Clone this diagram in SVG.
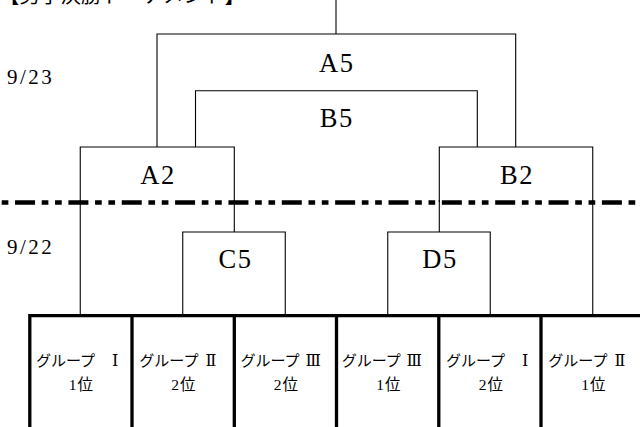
<svg xmlns="http://www.w3.org/2000/svg" width="640" height="427" viewBox="0 0 640 427">
<style>
.thin{fill:none;stroke:#000;stroke-width:1.1}
.thick{fill:none;stroke:#000;stroke-width:3.3}
.lbl{font-family:"Liberation Serif","Noto Sans CJK JP",serif;font-size:26.5px;letter-spacing:1.6px;text-anchor:middle;fill:#000}
.date{font-family:"Liberation Serif","Noto Sans CJK JP",serif;font-size:21px;letter-spacing:2.5px;fill:#000}
.team{font-family:"Liberation Serif","Noto Sans CJK JP",serif;font-size:15px;fill:#000}
.rank{font-family:"Liberation Serif","Noto Sans CJK JP",serif;font-size:15.5px;letter-spacing:1px;text-anchor:middle;fill:#000}
.rn{font-family:"DejaVu Serif","Noto Sans CJK JP",serif;font-size:16px}
.title{font-family:"Liberation Serif","Noto Sans CJK JP",serif;font-size:20.5px;fill:#000}
</style>
<rect width="640" height="427" fill="#fff"/>
<g id="title"><text class="title" x="-1" y="3">【男子決勝トーナメント】</text></g>
<g id="dates">
<text class="date" x="7" y="84">9/23</text>
<text class="date" x="7" y="254">9/22</text>
</g>
<g id="connectors">
<line class="thin" x1="336" y1="0" x2="336" y2="34"/>
<line class="thin" x1="80.25" y1="200" x2="80.25" y2="315"/>
<line class="thin" x1="234.3" y1="200" x2="234.3" y2="232"/>
<line class="thin" x1="439.3" y1="200" x2="439.3" y2="232"/>
<line class="thin" x1="592.75" y1="200" x2="592.75" y2="315"/>
</g>
<g id="node-A5"><path class="thin" d="M157,147 V34 H515.7 V147"/><text class="lbl" x="336.8" y="71.5">A5</text></g>
<g id="node-B5"><path class="thin" d="M195.5,147 V90.7 H477.3 V147"/><text class="lbl" x="336.8" y="127">B5</text></g>
<g id="node-A2"><path class="thin" d="M80.25,202 V147 H234.3 V202"/><text class="lbl" x="158" y="184">A2</text></g>
<g id="node-B2"><path class="thin" d="M439.3,202 V147 H592.75 V202"/><text class="lbl" x="517" y="184">B2</text></g>
<g id="node-C5"><path class="thin" d="M182.75,315 V232 H285.25 V315"/><text class="lbl" x="235.5" y="268">C5</text></g>
<g id="node-D5"><path class="thin" d="M387.75,315 V232 H490.25 V315"/><text class="lbl" x="440" y="268">D5</text></g>
<g id="divider"><line x1="-38.3" y1="202.5" x2="640" y2="202.5" stroke="#000" stroke-width="4.7" stroke-dasharray="20 6.67 6.67 6.67 6.67 6.67"/></g>
<g id="team-1"><path class="thick" d="M29.8,427 V315.7 H132"/><text class="team" x="36" y="365.5">グループ<tspan class="rn" x="112">Ⅰ</tspan></text><text class="rank" x="81.5" y="389.5">1位</text></g>
<g id="team-2"><path class="thick" d="M132,427 V315.7 H234.3"/><text class="team" x="139.3" y="365.5">グループ<tspan class="rn" x="205.5">Ⅱ</tspan></text><text class="rank" x="184" y="389.5">2位</text></g>
<g id="team-3"><path class="thick" d="M234.3,427 V315.7 H336.5"/><text class="team" x="240.5" y="365.5">グループ<tspan class="rn" x="305.5">Ⅲ</tspan></text><text class="rank" x="286.5" y="389.5">2位</text></g>
<g id="team-4"><path class="thick" d="M336.5,427 V315.7 H438.8"/><text class="team" x="341.7" y="365.5">グループ<tspan class="rn" x="406.5">Ⅲ</tspan></text><text class="rank" x="389" y="389.5">1位</text></g>
<g id="team-5"><path class="thick" d="M438.8,427 V315.7 H541"/><text class="team" x="446" y="365.5">グループ<tspan class="rn" x="522">Ⅰ</tspan></text><text class="rank" x="491.5" y="389.5">2位</text></g>
<g id="team-6"><path class="thick" d="M541,427 V315.7 H641"/><text class="team" x="548.3" y="365.5">グループ<tspan class="rn" x="614.5">Ⅱ</tspan></text><text class="rank" x="594" y="389.5">1位</text></g>
</svg>
